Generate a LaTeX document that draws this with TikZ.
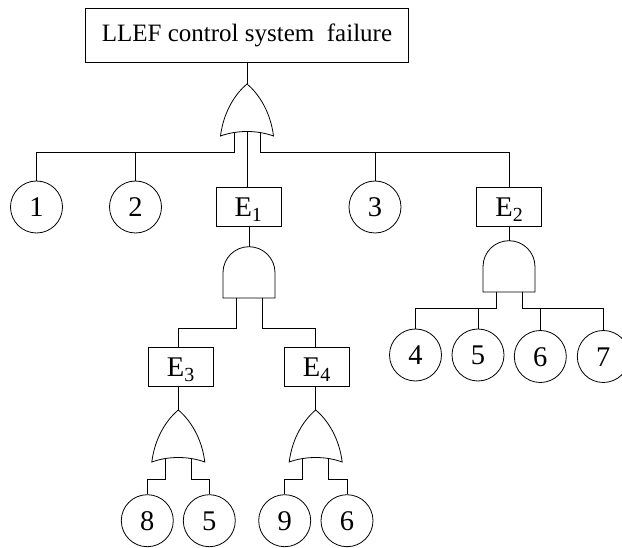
\documentclass[tikz,border=0pt]{standalone}
\usepackage{fontspec}
\setmainfont{Liberation Serif}

\definecolor{drawColor}{RGB}{0,0,0}
\tikzset{
  topBox/.style={draw=drawColor,inner sep=0pt,minimum width=323pt,minimum height=54pt,
    font=\fontsize{25}{29}\selectfont,text height=13.5pt,text depth=0pt},
  eventBox/.style={draw=drawColor,inner sep=0pt,minimum width=65pt,minimum height=39pt,
    font=\fontsize{28.5}{32}\selectfont,text height=19.4pt,text depth=0pt},
  basicEvent/.style={circle,draw=drawColor,inner sep=0pt,minimum size=52pt,
    font=\fontsize{28.5}{32}\selectfont,text height=19.4pt,text depth=0pt},
  pics/orGate/.style={code={
    \draw[drawColor] (-26.5,52) .. controls (-23.5,28) and (-12,10) .. (0,0)
      .. controls (12,10) and (23.5,28) .. (26.5,52)
      .. controls (10,46) and (-10,46) .. (-26.5,52) -- cycle;
    \coordinate (-top) at (0,0);
    \coordinate (-inA) at (-13,48.5);
    \coordinate (-inM) at (0,47.5);
    \coordinate (-inB) at (13,48.5);
  }},
  pics/andGate/.style={code={
    \draw[drawColor] (-26,51.3) -- (-26,26) .. controls (-26,11.6) and (-14.4,0) .. (0,0)
      .. controls (14.4,0) and (26,11.6) .. (26,26) -- (26,51.3) -- cycle;
    \coordinate (-top) at (0,0);
    \coordinate (-inA) at (-13,51.3);
    \coordinate (-inB) at (13,51.3);
  }}
}

\begin{document}
\begin{tikzpicture}[x=1pt,y=-1pt,line width=0.8pt]
\useasboundingbox (0,0) rectangle (622,548);
\clip (0,0) rectangle (622,548);

% top event and first OR gate
\node[topBox] (top) at (247,35) {LLEF control system \ failure};
\pic (orTop) at (247,84) {orGate};
\draw[drawColor] (top.south) -- (orTop-top);

\node[basicEvent] (c1) at (36.5,207) {1};
\node[basicEvent] (c2) at (135.5,207) {2};
\node[eventBox] (e1) at (248.5,207) {E\textsubscript{1}};
\node[basicEvent] (c3) at (375,207) {3};
\node[eventBox] (e2) at (509.3,207) {E\textsubscript{2}};

\coordinate (busTop) at (0,152.7);
\draw[drawColor] (orTop-inA) -- (orTop-inA |- busTop) -| (c1.north);
\draw[drawColor] (c2.north) -- (c2.north |- busTop);
\draw[drawColor] (orTop-inM) -- (orTop-inM |- e1.north);
\draw[drawColor] (orTop-inB) -- (orTop-inB |- busTop) -| (e2.north);
\draw[drawColor] (c3.north) -- (c3.north |- busTop);

% E1 branch
\pic (andE1) at (249,246.7) {andGate};
\draw[drawColor] (e1.south -| andE1-top) -- (andE1-top);

\node[eventBox] (e3) at (180.8,366.8) {E\textsubscript{3}};
\node[eventBox] (e4) at (316.8,366.8) {E\textsubscript{4}};

\coordinate (busE1) at (0,328.3);
\draw[drawColor] (andE1-inA) -- (andE1-inA |- busE1) -| (e3.north -| 178.3,0);
\draw[drawColor] (andE1-inB) -- (andE1-inB |- busE1) -| (e4.north -| 315.7,0);

\pic (orE3) at (178.3,410) {orGate};
\pic (orE4) at (315.7,410) {orGate};
\draw[drawColor] (e3.south -| orE3-top) -- (orE3-top);
\draw[drawColor] (e4.south -| orE4-top) -- (orE4-top);

\node[basicEvent] (c8) at (147.3,520.7) {8};
\node[basicEvent] (c5b) at (209.3,520.7) {5};
\node[basicEvent] (c9) at (284.7,520.7) {9};
\node[basicEvent] (c6b) at (347,520.7) {6};

\coordinate (busLow) at (0,479);
\draw[drawColor] (orE3-inA) -- (orE3-inA |- busLow) -| (c8.north);
\draw[drawColor] (orE3-inB) -- (orE3-inB |- busLow) -| (c5b.north);
\draw[drawColor] (orE4-inA) -- (orE4-inA |- busLow) -| (c9.north);
\draw[drawColor] (orE4-inB) -- (orE4-inB |- busLow) -| (c6b.north);

% E2 branch
\pic (andE2) at (509,240.7) {andGate};
\draw[drawColor] (e2.south -| andE2-top) -- (andE2-top);

\node[basicEvent] (c4) at (415.5,355) {4};
\node[basicEvent] (c5) at (478,355) {5};
\node[basicEvent] (c6) at (540.3,356.5) {6};
\node[basicEvent] (c7) at (603.3,356.5) {7};

\coordinate (busE2) at (0,308.3);
\draw[drawColor] (andE2-inA) -- (andE2-inA |- busE2) -| (c4.north);
\draw[drawColor] (c5.north) -- (c5.north |- busE2);
\draw[drawColor] (andE2-inB) -- (andE2-inB |- busE2) -| (c7.north);
\draw[drawColor] (c6.north) -- (c6.north |- busE2);
\end{tikzpicture}
\end{document}
